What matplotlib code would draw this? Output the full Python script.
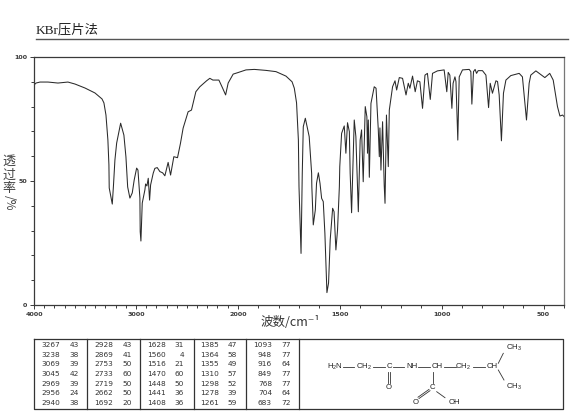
import numpy as np
import matplotlib
matplotlib.use("Agg")
import matplotlib.pyplot as plt

plt.rcParams["font.family"] = ["Noto Sans CJK SC", "DejaVu Sans"]
plt.rcParams["mathtext.default"] = "regular"

# spectrum
wavenumber = [
    4000, 3980, 3941, 3863, 3765, 3667, 3598, 3500, 3402, 3333, 3314, 3294, 3275, 3265, 3262, 3232,
    3220, 3206, 3189, 3150, 3118, 3098, 3081, 3059, 3036, 3017, 2993, 2980, 2961, 2958, 2951, 2938,
    2912, 2905, 2892, 2879, 2866, 2856, 2830, 2814, 2791, 2765, 2738, 2716, 2684, 2660, 2628, 2592,
    2563, 2537, 2488, 2455, 2412, 2373, 2307, 2275, 2245, 2186, 2150, 2120, 2095, 2046, 2000,
    1960, 1919, 1862, 1813, 1764, 1734, 1723, 1712, 1703, 1700, 1690, 1684, 1679, 1669, 1650, 1638,
    1637, 1630, 1620, 1614, 1605, 1597, 1589, 1581, 1573, 1563, 1555, 1547, 1535, 1528, 1519, 1511,
    1502, 1500, 1491, 1478, 1470, 1462, 1453, 1449, 1442, 1436, 1429, 1421, 1409, 1400, 1393, 1385,
    1375, 1367, 1364, 1360, 1355, 1347, 1331, 1322, 1311, 1306, 1303, 1298, 1290, 1282, 1278, 1271,
    1262, 1257, 1241, 1229, 1221, 1208, 1192, 1175, 1164, 1156, 1143, 1130, 1119, 1107, 1094, 1082,
    1070, 1056, 1045, 1021, 988, 975, 968, 960, 950, 944, 935, 930, 921, 914, 898, 865, 857, 852,
    844, 836, 829, 821, 800, 783, 770, 762, 751, 734, 726, 718, 707, 697, 685, 661, 620, 604, 584,
    571, 563, 538, 494, 470, 453, 432, 420, 407, 400,
]
transmittance = [
    88.7, 89.5, 89.9, 89.9, 89.5, 89.9, 89.1, 87.5, 85.5, 83.1, 81.5, 76.6, 66.5, 56.5, 47.2, 40.7,
    48.4, 58.5, 65.3, 73.3, 68.5, 59.7, 47.6, 43.1, 45.2, 50.4, 55.2, 54.4, 43.1, 29.6, 25.8, 41.1,
    46.4, 48.8, 48.0, 51.1, 42.3, 48.4, 53.2, 55.1, 55.4, 53.8, 53.3, 52.1, 57.5, 52.4, 59.8, 59.4,
    65.2, 71.3, 77.9, 78.6, 86.0, 88.0, 90.4, 91.4, 90.7, 90.7, 87.5, 84.7, 89.5, 93.1, 93.7,
    94.8, 95.0, 94.6, 94.1, 92.3, 90.0, 87.4, 81.5, 66.5, 47.7, 20.8, 53.0, 71.9, 75.3, 67.9, 53.1,
    47.7, 32.3, 38.3, 49.1, 53.3, 49.1, 43.0, 41.7, 28.9, 5.0, 8.9, 26.2, 39.0, 37.6, 22.2, 30.2,
    47.7, 55.8, 69.2, 72.2, 61.2, 73.5, 69.9, 53.1, 37.2, 54.4, 74.6, 67.9, 37.6, 66.5, 70.6, 49.7,
    80.0, 75.9, 61.2, 74.6, 51.5, 81.3, 88.0, 87.4, 70.6, 59.8, 71.4, 54.4, 73.9, 48.4, 41.0, 76.6,
    55.8, 78.6, 88.0, 90.4, 86.7, 91.7, 91.4, 84.7, 89.4, 87.4, 92.3, 86.0, 90.4, 90.0, 79.3, 92.7,
    93.4, 82.9, 93.4, 94.4, 94.8, 86.0, 93.8, 92.7, 79.3, 89.4, 92.0, 90.1, 66.5, 92.0, 94.8, 95.0, 94.1, 81.0,
    94.1, 95.0, 93.4, 94.5, 94.5, 92.7, 79.6, 89.4, 85.4, 90.4, 90.1, 84.7, 66.2, 85.4, 90.7, 92.5, 93.4, 92.0, 74.6,
    89.4, 92.7, 94.4, 91.7, 93.4, 90.7, 80.0, 76.2, 76.6, 76.0,
]

# peak table
peak_wn = [
    [3267, 3238, 3069, 3045, 2969, 2956, 2940],
    [2928, 2869, 2753, 2733, 2719, 2662, 1692],
    [1628, 1560, 1516, 1470, 1448, 1441, 1408],
    [1385, 1364, 1355, 1310, 1298, 1278, 1261],
    [1093, 948, 916, 849, 768, 704, 683],
]
peak_t = [
    [43, 38, 39, 42, 39, 24, 38],
    [43, 41, 50, 60, 50, 50, 20],
    [31, 4, 21, 60, 50, 36, 36],
    [47, 58, 49, 57, 52, 39, 59],
    [77, 77, 64, 77, 77, 64, 72],
]

x_major = [4000, 3000, 2000, 1500, 1000, 500]
y_major = [0, 50, 100]
ink = "#3a3a3a"


# the spectrum axis doubles its scale below 2000 cm-1
def fwd(w):
    w = np.asarray(w, dtype=float)
    return np.where(w >= 2000, w, 2000 - (2000 - w) * 2)


def inv(p):
    p = np.asarray(p, dtype=float)
    return np.where(p >= 2000, p, 2000 - (2000 - p) / 2)


W, H = 570, 417
fig = plt.figure(figsize=(W / 100, H / 100), dpi=100)

# full figure overlay in pixel coordinates for table, title and structure
page = fig.add_axes([0, 0, 1, 1])
page.set_xlim(0, W)
page.set_ylim(H, 0)
page.axis("off")

ax = fig.add_axes([34 / W, 1 - 305 / H, 530 / W, 248 / H])
ax.set_xscale("function", functions=(fwd, inv))
ax.plot(wavenumber, transmittance, color="#2a2a2a", lw=0.75)
for s in ax.spines.values():
    s.set_color(ink)
    s.set_linewidth(0.9)
ax.spines["right"].set_color("#777777")
ax.set_xticks(x_major)
ax.set_xticklabels([str(v) for v in x_major], family="DejaVu Sans", fontsize=4.6, weight="bold", color=ink)
ax.set_xticks(np.arange(400, 4000, 100), minor=True)
ax.set_yticks(y_major)
ax.set_yticklabels([str(v) for v in y_major], family="DejaVu Sans", fontsize=4.6, weight="bold", color=ink)
ax.set_yticks(np.arange(0, 101, 10), minor=True)
ax.set_xlim(4000, 400)
ax.set_ylim(0, 100)
ax.tick_params(which="major", length=3, width=0.7, color=ink, pad=2)
ax.tick_params(which="minor", length=2, width=0.7, color=ink)

# title and rule
page.text(36, 33, "KBr压片法", fontsize=9.6, color="#222222", va="baseline", family=["Liberation Serif", "Noto Sans CJK SC"])
page.plot([36, 568], [39, 39], color="#555555", lw=1.0)

# axis labels
page.text(290, 322, "波数/cm⁻¹", fontsize=9, color="#333333", ha="center", va="center")
for ch, yy in zip("透过率", [161, 175, 188]):
    page.text(9, yy, ch, fontsize=9.4, color="#444444", ha="center", va="center")
page.text(9, 203, "/%", fontsize=8.5, color="#444444", ha="center", va="center", rotation=-90)

# table box
page.plot([34, 563, 563, 34, 34], [339, 339, 409, 409, 339], color="#333333", lw=0.9)
for xd in [87.3, 140.3, 193.7, 246.3, 299.3]:
    page.plot([xd, xd], [339, 409], color="#333333", lw=0.9)
row_y = [345.3, 354.7, 364.3, 374, 383.7, 393.3, 402.7]
wn_right = [60, 113, 166, 219, 272]
t_right = [79, 132, 184, 237, 290.7]
for c in range(5):
    for r in range(7):
        page.text(wn_right[c], row_y[r], str(peak_wn[c][r]), fontsize=5.3, family="DejaVu Sans",
                  color="#333333", ha="right", va="center")
        page.text(t_right[c], row_y[r], str(peak_t[c][r]), fontsize=5.3, family="DejaVu Sans",
                  color="#333333", ha="right", va="center")

# structure formula
atoms = [
    ("H$_2$N", 335, 367), ("CH$_2$", 364, 367), ("C", 389, 367), ("O", 389, 387.3),
    ("NH", 411.7, 367), ("CH", 436.7, 367), ("C", 432.7, 387.3), ("CH$_2$", 463.3, 367),
    ("CH", 492.3, 367), ("CH$_3$", 514, 348.3), ("CH$_3$", 514, 386.7), ("OH", 454, 402),
    ("O", 416, 402.3),
]
for label, xa, ya in atoms:
    page.text(xa, ya, label, fontsize=5.6, family="Liberation Sans", color="#222222", ha="center", va="center")
bonds = [
    (342.7, 367, 354, 367), (373.3, 367, 385, 367), (392.7, 367, 404, 367), (418.3, 367, 430, 367),
    (444, 367, 455.7, 367), (473.3, 367, 485, 367), (388, 371.7, 388, 383.3), (390.3, 371.7, 390.3, 383.3),
    (432.7, 371.7, 432.7, 383.3), (498.3, 363.3, 503.3, 353.3), (498.3, 370, 504, 380),
    (436.7, 391.7, 445, 397.7), (430, 390.7, 419, 398.5), (429, 389.4, 418, 397.2),
]
for x0, y0, x1, y1 in bonds:
    page.plot([x0, x1], [y0, y1], color="#333333", lw=0.6)

fig.savefig("out.png", dpi=100)
